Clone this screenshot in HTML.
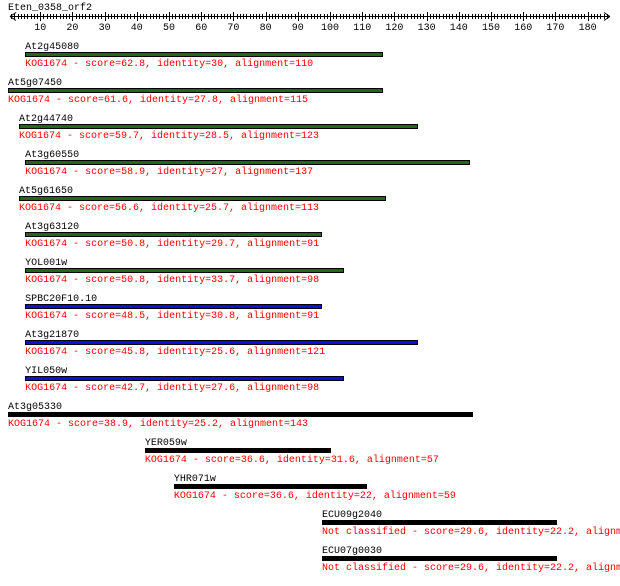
<!DOCTYPE html>
<html><head><meta charset="utf-8"><style>
html,body{margin:0;padding:0;background:#fff;}
svg text{font-family:"Liberation Mono","DejaVu Sans Mono",monospace;font-size:10px;}
</style></head><body>
<svg id="chart" width="620" height="581" xmlns="http://www.w3.org/2000/svg">
<text x="8" y="10" fill="#000">Eten_0358_orf2</text>
<g id="axis"></g>
<g id="rows"></g>
</svg>
<script>
const names = ["At2g45080","At5g07450","At2g44740","At3g60550","At5g61650","At3g63120","YOL001w","SPBC20F10.10","At3g21870","YIL050w","At3g05330","YER059w","YHR071w","ECU09g2040","ECU07g0030"];
const starts = [5.3,0,3.4,5.3,3.4,5.3,5.3,5.3,5.3,5.3,0,42.5,51.5,97.5,97.5];
const ends = [116.1,116.1,127,143.2,117,97.2,104,97.2,127,104,144.1,100,111.2,170.2,170.2];
const classes = ["KOG1674","KOG1674","KOG1674","KOG1674","KOG1674","KOG1674","KOG1674","KOG1674","KOG1674","KOG1674","KOG1674","KOG1674","KOG1674","Not classified","Not classified"];
const scores = ["62.8","61.6","59.7","58.9","56.6","50.8","50.8","48.5","45.8","42.7","38.9","36.6","36.6","29.6","29.6"];
const identities = ["30","27.8","28.5","27","25.7","29.7","33.7","30.8","25.6","27.6","25.2","31.6","22","22.2","22.2"];
const alignments = ["110","115","123","137","113","91","98","91","121","98","143","57","59","",""];
const colors = ["green","green","green","green","green","green","green","blue","blue","blue","black","black","black","black","black"];
const tickLabels = [10,20,30,40,50,60,70,80,90,100,110,120,130,140,150,160,170,180];

const NS="http://www.w3.org/2000/svg";
function x(u){return 8+u*3.22;}
function el(t,a,p){const e=document.createElementNS(NS,t);for(const k in a)e.setAttribute(k,a[k]);p.appendChild(e);return e;}
const axis=document.getElementById('axis');
const line=el('path',{d:'M10 16.5 H610 M10 16.5 l6 -4 M10 16.5 l6 4 M610 16.5 l-6 -4 M610 16.5 l-6 4',stroke:'#000',fill:'none','stroke-width':1},axis);


for(let u=1;u<=186;u++){
  const px=Math.round(x(u))+0.5, major=u%10===0;
  const t=el('line',{x1:px,x2:px,y1:major?12:14,y2:major?21:19,stroke:'#000'},axis);
  
  
}
tickLabels.forEach(v=>{
  const t=el('text',{x:x(v),y:30,'text-anchor':'middle'},axis);
  t.textContent=v;
  
  
});
const fills={green:'#1a6b1a',blue:'#1010d0',black:'#000'};
const rows=document.getElementById('rows');
names.forEach((n,i)=>{
  const y=52+36*i, x0=x(starts[i]), x1=x(ends[i]);
  const g=el('g',{},rows);
  
  
  const lb=el('text',{x:x0,y:y-3,fill:'#000'},g);
  lb.textContent=n;
  
  
  const b=el('rect',{x:Math.round(x0)+0.5,y:y+0.5,width:Math.round(x1-x0),height:4,fill:fills[colors[i]],stroke:'#000'},g);
  
  
  const d=el('text',{x:x0,y:y+14,fill:'#f00'},g);
  d.textContent=classes[i]+' - score='+scores[i]+', identity='+identities[i]+', alignment='+alignments[i];
  
  
});
</script>
</body></html>
